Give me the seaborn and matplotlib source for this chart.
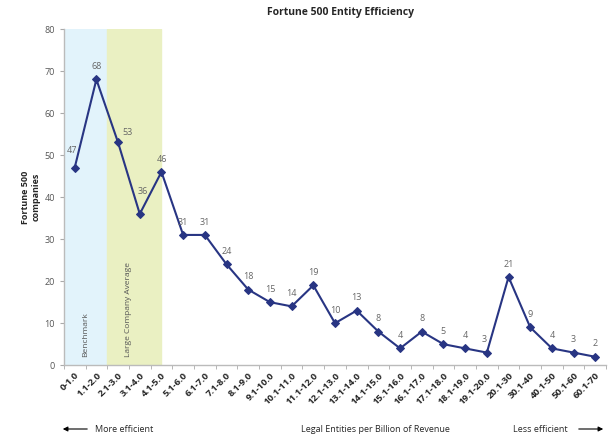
import numpy as np
import pandas as pd
import matplotlib
matplotlib.use("Agg")
import matplotlib.pyplot as plt
import seaborn as sns

ranges = ["0-1.0", "1.1-2.0", "2.1-3.0", "3.1-4.0", "4.1-5.0", "5.1-6.0", "6.1-7.0",
          "7.1-8.0", "8.1-9.0", "9.1-10.0", "10.1-11.0", "11.1-12.0", "12.1-13.0",
          "13.1-14.0", "14.1-15.0", "15.1-16.0", "16.1-17.0", "17.1-18.0", "18.1-19.0",
          "19.1-20.0", "20.1-30", "30.1-40", "40.1-50", "50.1-60", "60.1-70"]
companies = [47, 68, 53, 36, 46, 31, 31, 24, 18, 15, 14, 19, 10, 13, 8, 4, 8, 5, 4, 3,
             21, 9, 4, 3, 2]

df = pd.DataFrame({"range": ranges, "companies": companies})
df["pos"] = np.arange(len(df))

# label nudges (points) for a few crowded labels
nudge = {0: (-2, 9), 2: (7, 4), 3: (2, 13), 19: (-2, 6)}

sns.set_style("white")
plt.rcParams["font.family"] = ["Open Sans", "DejaVu Sans"]

fig = plt.figure(figsize=(6.08, 4.40), dpi=100)
ax = fig.add_axes([0.105, 0.170, 0.892, 0.764])

# shaded bands
ax.axvspan(-0.5, 1.5, color="#e2f3fb", zorder=0)
ax.axvspan(1.5, 4.0, color="#eaf0c2", zorder=0)
ax.text(0.5, 2, "Benchmark", rotation=90, fontsize=6, color="#555555", ha="center", va="bottom")
ax.text(2.5, 2, "Large Company Average", rotation=90, fontsize=6, color="#555555",
        ha="center", va="bottom")

sns.lineplot(data=df, x="pos", y="companies", ax=ax, color="#283583", linewidth=1.5,
             marker="D", markersize=4.5, markeredgecolor="#283583")

for p, v in zip(df["pos"], df["companies"]):
    ax.annotate(str(v), (p, v), xytext=nudge.get(p, (0, 6)), textcoords="offset points",
                ha="center", va="bottom", fontsize=6.5, color="#666666")

ax.set_xlim(-0.5, len(ranges) - 0.5)
ax.set_ylim(0, 80)
ax.set_yticks(range(0, 81, 10))
ax.set_xticks(df["pos"])
ax.set_xticklabels(ranges, rotation=45, ha="right", rotation_mode="anchor",
                   fontsize=6.8, fontweight="bold")
ax.tick_params(axis="y", labelsize=6.5, colors="#555555", length=3, color="#aaaaaa", left=True)
ax.tick_params(axis="x", length=0, pad=4)
ax.set_xticks(np.arange(-0.5, len(ranges), 1), minor=True)
ax.tick_params(axis="x", which="minor", length=3, color="#aaaaaa", bottom=True)
for lab in ax.get_yticklabels():
    lab.set_color("#555555")

for s in ["top", "right"]:
    ax.spines[s].set_visible(False)
for s in ["left", "bottom"]:
    ax.spines[s].set_color("#bbbbbb")
    ax.spines[s].set_linewidth(1)

ax.set_xlabel("")
ax.set_ylabel("Fortune 500\ncompanies", fontsize=6.5, fontweight="bold", labelpad=3)

fig.text(0.56, 0.972, "Fortune 500 Entity Efficiency", ha="center", va="center",
         fontsize=7.5, fontweight="bold")

# bottom annotations
yb = 1 - 429 / 440
ax.annotate("", xy=(60 / 608, yb), xytext=(90 / 608, yb), xycoords="figure fraction",
            textcoords="figure fraction", annotation_clip=False,
            arrowprops=dict(arrowstyle="-|>", color="black", lw=0.8, mutation_scale=7))
fig.text(95 / 608, yb, "More efficient", fontsize=6.5, va="center", ha="left")
fig.text(375 / 608, yb, "Legal Entities per Billion of Revenue", fontsize=6.5,
         va="center", ha="center")
fig.text(568 / 608, yb, "Less efficient", fontsize=6.5, va="center", ha="right")
ax.annotate("", xy=(606 / 608, yb), xytext=(576 / 608, yb), xycoords="figure fraction",
            textcoords="figure fraction", annotation_clip=False,
            arrowprops=dict(arrowstyle="-|>", color="black", lw=0.8, mutation_scale=7))

fig.savefig("out.png", dpi=100)
